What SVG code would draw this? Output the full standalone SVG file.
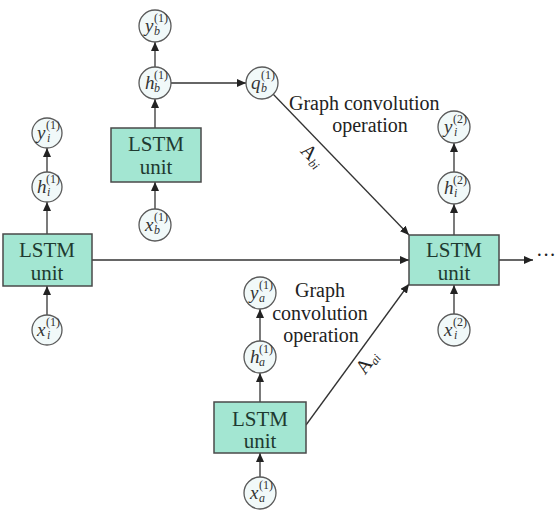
<svg xmlns="http://www.w3.org/2000/svg" width="558" height="515" viewBox="0 0 558 515">
<style>
text{font-family:"Liberation Serif","Times New Roman","DejaVu Serif",serif}
.box{fill:#a3e6d2;stroke:#4a4a4a;stroke-width:1.5}
.nd{fill:#f1f9f9;stroke:#5a5a5a;stroke-width:1.3}
.ln{fill:none;stroke:#333;stroke-width:1.3}
.bt{font-size:21px;fill:#1e3a30;text-anchor:middle}
.lb{font-size:20px;fill:#222}
.m{font-style:italic;font-size:19px;fill:#333}
.s{font-style:italic;font-size:12px;fill:#333}
.p{font-size:12px;fill:#333}
</style>
<defs>
<marker id="ah" markerUnits="userSpaceOnUse" markerWidth="10" markerHeight="8" refX="9" refY="4" orient="auto">
<path d="M0,0 L9,4 L0,8 Z" fill="#222"/>
</marker>
</defs>
<rect width="558" height="515" fill="#fff"/>
<g id="connectors">
<line class="ln" x1="155" y1="209" x2="155" y2="182" marker-end="url(#ah)"/>
<line class="ln" x1="155" y1="128" x2="155" y2="99" marker-end="url(#ah)"/>
<line class="ln" x1="155" y1="67" x2="155" y2="42" marker-end="url(#ah)"/>
<line class="ln" x1="171" y1="83" x2="246" y2="83" marker-end="url(#ah)"/>
<line class="ln" x1="47" y1="315" x2="47" y2="286" marker-end="url(#ah)"/>
<line class="ln" x1="47" y1="234" x2="47" y2="202" marker-end="url(#ah)"/>
<line class="ln" x1="47" y1="172" x2="47" y2="148" marker-end="url(#ah)"/>
<line class="ln" x1="92" y1="260" x2="409" y2="260" marker-end="url(#ah)"/>
<line class="ln" x1="454" y1="314" x2="454" y2="285" marker-end="url(#ah)"/>
<line class="ln" x1="454" y1="235" x2="454" y2="204" marker-end="url(#ah)"/>
<line class="ln" x1="454" y1="172" x2="454" y2="143" marker-end="url(#ah)"/>
<line class="ln" x1="499" y1="260" x2="533" y2="260" marker-end="url(#ah)"/>
<line class="ln" x1="260" y1="477" x2="260" y2="453" marker-end="url(#ah)"/>
<line class="ln" x1="260" y1="402" x2="260" y2="373" marker-end="url(#ah)"/>
<line class="ln" x1="260" y1="341" x2="260" y2="309" marker-end="url(#ah)"/>
<line class="ln" x1="273" y1="94" x2="409" y2="235" marker-end="url(#ah)"/>
<line class="ln" x1="306" y1="425" x2="409" y2="284" marker-end="url(#ah)"/>
</g>
<g id="labels">
<text class="lb" x="289" y="110">Graph convolution</text>
<text class="lb" x="370" y="132" text-anchor="middle">operation</text>
<text class="lb" x="320" y="297" text-anchor="middle">Graph</text>
<text class="lb" x="320" y="320" text-anchor="middle">convolution</text>
<text class="lb" x="321" y="342" text-anchor="middle">operation</text>
<text class="lb" transform="translate(308,160) rotate(45)" text-anchor="middle" font-size="20">A<tspan font-style="italic" font-size="12" dy="3">bi</tspan></text>
<text class="lb" transform="translate(372,366) rotate(-54)" text-anchor="middle" font-size="20">A<tspan font-style="italic" font-size="12" dy="3">ai</tspan></text>
<text class="lb" x="556" y="262" font-size="16" text-anchor="end">···</text>
</g>
<g id="lstm_b"><rect class="box" x="111" y="128" width="90" height="54"/><text class="bt" x="156" y="151">LSTM</text><text class="bt" x="156" y="174">unit</text></g>
<g id="lstm_i1"><rect class="box" x="3" y="234" width="89" height="52"/><text class="bt" x="47" y="257">LSTM</text><text class="bt" x="47" y="280">unit</text></g>
<g id="lstm_i2"><rect class="box" x="409" y="235" width="90" height="50"/><text class="bt" x="454" y="257">LSTM</text><text class="bt" x="454" y="280">unit</text></g>
<g id="lstm_a"><rect class="box" x="214" y="402" width="92" height="51"/><text class="bt" x="260" y="426">LSTM</text><text class="bt" x="260" y="448">unit</text></g>
<g id="y_b"><circle class="nd" cx="155" cy="26" r="16"/><text class="m" x="145" y="32">y</text><text class="s" x="154" y="35">b</text><text class="p" x="154" y="22">(1)</text></g>
<g id="h_b"><circle class="nd" cx="155" cy="83" r="16"/><text class="m" x="145" y="89">h</text><text class="s" x="154" y="92">b</text><text class="p" x="154" y="79">(1)</text></g>
<g id="q_b"><circle class="nd" cx="262" cy="83" r="16"/><text class="m" x="251" y="89">q</text><text class="s" x="261" y="92">b</text><text class="p" x="261" y="79">(1)</text></g>
<g id="x_b"><circle class="nd" cx="155" cy="225" r="16"/><text class="m" x="145" y="231">x</text><text class="s" x="154" y="234">b</text><text class="p" x="154" y="221">(1)</text></g>
<g id="y_i1"><circle class="nd" cx="47" cy="133" r="15"/><text class="m" x="37" y="139">y</text><text class="s" x="47" y="142">i</text><text class="p" x="46" y="129">(1)</text></g>
<g id="h_i1"><circle class="nd" cx="47" cy="187" r="15"/><text class="m" x="37" y="193">h</text><text class="s" x="47" y="196">i</text><text class="p" x="46" y="183">(1)</text></g>
<g id="x_i1"><circle class="nd" cx="47" cy="330" r="15"/><text class="m" x="37" y="336">x</text><text class="s" x="47" y="339">i</text><text class="p" x="46" y="326">(1)</text></g>
<g id="y_i2"><circle class="nd" cx="454" cy="127" r="16"/><text class="m" x="444" y="133">y</text><text class="s" x="454" y="136">i</text><text class="p" x="453" y="123">(2)</text></g>
<g id="h_i2"><circle class="nd" cx="454" cy="188" r="16"/><text class="m" x="444" y="194">h</text><text class="s" x="454" y="197">i</text><text class="p" x="453" y="184">(2)</text></g>
<g id="x_i2"><circle class="nd" cx="454" cy="330" r="16"/><text class="m" x="444" y="336">x</text><text class="s" x="454" y="339">i</text><text class="p" x="453" y="326">(2)</text></g>
<g id="y_a"><circle class="nd" cx="260" cy="293" r="16"/><text class="m" x="250" y="299">y</text><text class="s" x="259" y="302">a</text><text class="p" x="259" y="289">(1)</text></g>
<g id="h_a"><circle class="nd" cx="260" cy="357" r="16"/><text class="m" x="250" y="363">h</text><text class="s" x="259" y="366">a</text><text class="p" x="259" y="353">(1)</text></g>
<g id="x_a"><circle class="nd" cx="260" cy="493" r="16"/><text class="m" x="250" y="499">x</text><text class="s" x="259" y="502">a</text><text class="p" x="259" y="489">(1)</text></g>
</svg>
